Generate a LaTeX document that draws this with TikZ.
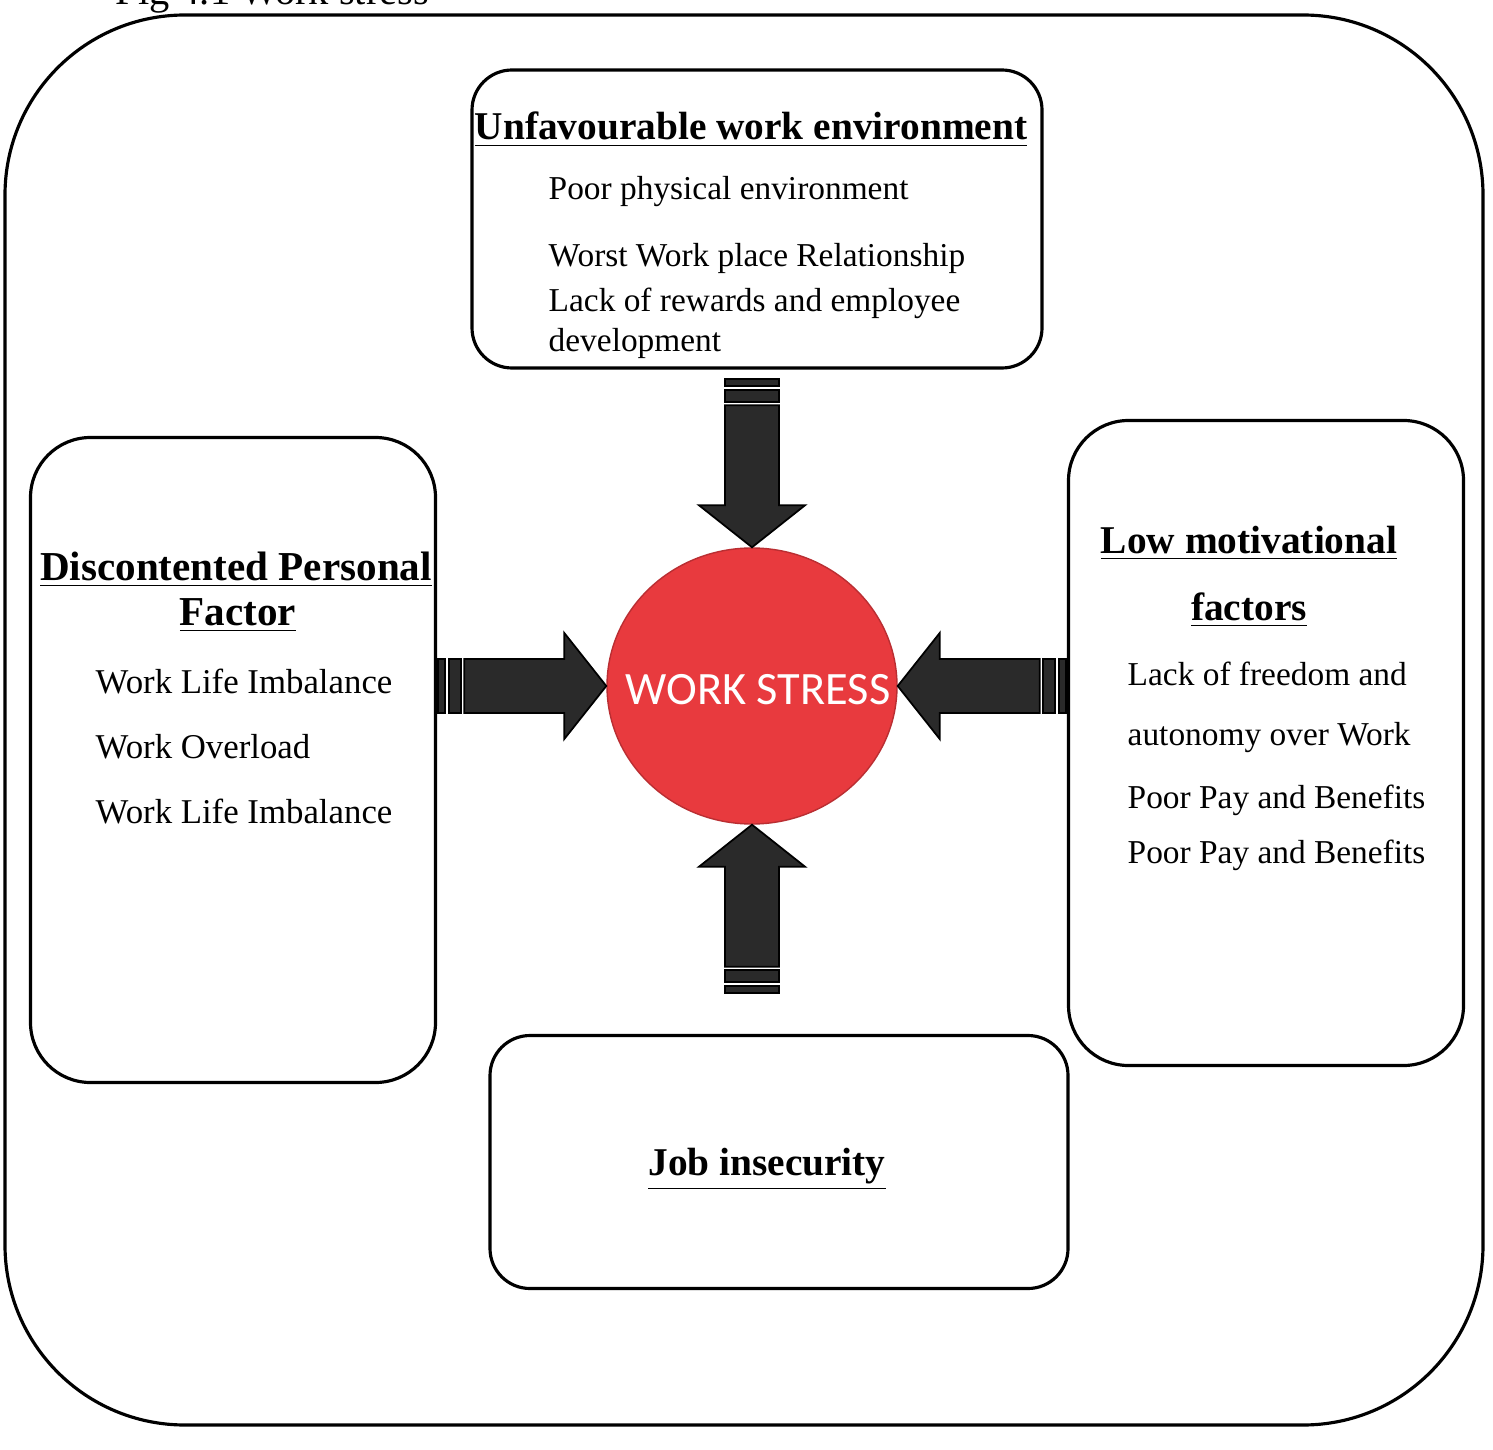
\documentclass[tikz,border=0pt]{standalone}
\usepackage{fontspec}
\setmainfont{Liberation Serif}
\newfontfamily\calibrifont{Carlito}
\usetikzlibrary{shapes.geometric}
\definecolor{stressred}{RGB}{232,58,62}
\definecolor{arrowgray}{RGB}{42,42,42}
\tikzset{
	box/.style={draw=black, line width=0.9pt},
	boxtitle/.style={black, anchor=base, inner sep=0pt, font=\fontsize{11.2}{13}\selectfont\bfseries},
	boxitem/.style={black, anchor=base west, inner sep=0pt, font=\fontsize{9.5}{11}\selectfont},
	arrowpart/.style={fill=arrowgray, draw=black, line width=0.5pt},
	stressarrow/.pic={
		\filldraw[arrowpart] (0,0) -- (-0.42,0.53) -- (-0.42,0.27) -- (-1.42,0.27) -- (-1.42,-0.27) -- (-0.42,-0.27) -- (-0.42,-0.53) -- cycle;
		\filldraw[arrowpart] (-1.45,-0.27) rectangle (-1.57,0.27);
		\filldraw[arrowpart] (-1.61,-0.27) rectangle (-1.68,0.27);
	}
}
\begin{document}
\begin{tikzpicture}
	\useasboundingbox (0,0) rectangle (14.93,-14.50);
	\fill[white] (0,0) rectangle (14.93,-14.50);
	\node[black, anchor=base west, inner sep=0pt, font=\fontsize{11.5}{13}\selectfont] (figtitle) at (1.15,-0.05) {Fig 4.1 Work stress};
	\draw[draw=black, line width=0.9pt, rounded corners=1.8cm] (0.05,-0.15) rectangle (14.83,-14.25);
	\node[box, rounded corners=0.4cm, minimum width=5.70cm, minimum height=2.98cm] (envbox) at (7.57,-2.19) {};
	\node[box, rounded corners=0.6cm, minimum width=4.05cm, minimum height=6.45cm] (personalbox) at (2.33,-7.60) {};
	\node[box, rounded corners=0.6cm, minimum width=3.95cm, minimum height=6.45cm] (motivbox) at (12.66,-7.43) {};
	\node[box, rounded corners=0.4cm, minimum width=5.78cm, minimum height=2.53cm] (jobbox) at (7.79,-11.62) {};
	\node[ellipse, fill=stressred, draw=stressred!80!black, thin, minimum width=2.90cm, minimum height=2.76cm, inner sep=0pt] (stress) at (7.52,-6.86) {};
	\node[text=white, inner sep=0pt, font=\calibrifont\fontsize{13.2}{15}\selectfont] (stresslabel) at (7.58,-6.90) {WORK STRESS};
	\pic[rotate=-90] at (stress.north) {stressarrow};
	\pic at (stress.west) {stressarrow};
	\pic[rotate=180] at (stress.east) {stressarrow};
	\pic[rotate=90] at (stress.south) {stressarrow};
	\node[boxtitle] (envtitle) at (7.51,-1.40) {\underline{Unfavourable work environment}};
	\node[boxitem] (envitemA) at (5.48,-2.00) {Poor physical environment};
	\node[boxitem] (envitemB) at (5.48,-2.67) {Worst Work place Relationship};
	\node[boxitem] (envitemC) at (5.48,-3.12) {Lack of rewards and employee};
	\node[boxitem] (envitemD) at (5.48,-3.52) {development};
	\node[boxtitle, font=\fontsize{11.7}{13}\selectfont\bfseries] (personaltitle) at (2.36,-5.80) {\underline{Discontented Personal}};
	\node[boxtitle, font=\fontsize{11.7}{13}\selectfont\bfseries] (personaltitleB) at (2.38,-6.25) {\underline{Factor}};
	\node[boxitem, font=\fontsize{9.9}{11}\selectfont] (personalitemA) at (0.95,-6.93) {Work Life Imbalance};
	\node[boxitem, font=\fontsize{9.9}{11}\selectfont] (personalitemB) at (0.95,-7.58) {Work Overload};
	\node[boxitem, font=\fontsize{9.9}{11}\selectfont] (personalitemC) at (0.95,-8.23) {Work Life Imbalance};
	\node[boxtitle] (motivtitle) at (12.49,-5.53) {\underline{Low motivational}};
	\node[boxtitle] (motivtitleB) at (12.49,-6.20) {\underline{factors}};
	\node[boxitem] (motivitemA) at (11.27,-6.85) {Lack of freedom and};
	\node[boxitem] (motivitemB) at (11.27,-7.45) {autonomy over Work};
	\node[boxitem] (motivitemC) at (11.27,-8.08) {Poor Pay and Benefits};
	\node[boxitem] (motivitemD) at (11.27,-8.63) {Poor Pay and Benefits};
	\node[boxtitle] (jobtitle) at (7.67,-11.75) {\underline{Job insecurity}};
\end{tikzpicture}
\end{document}
